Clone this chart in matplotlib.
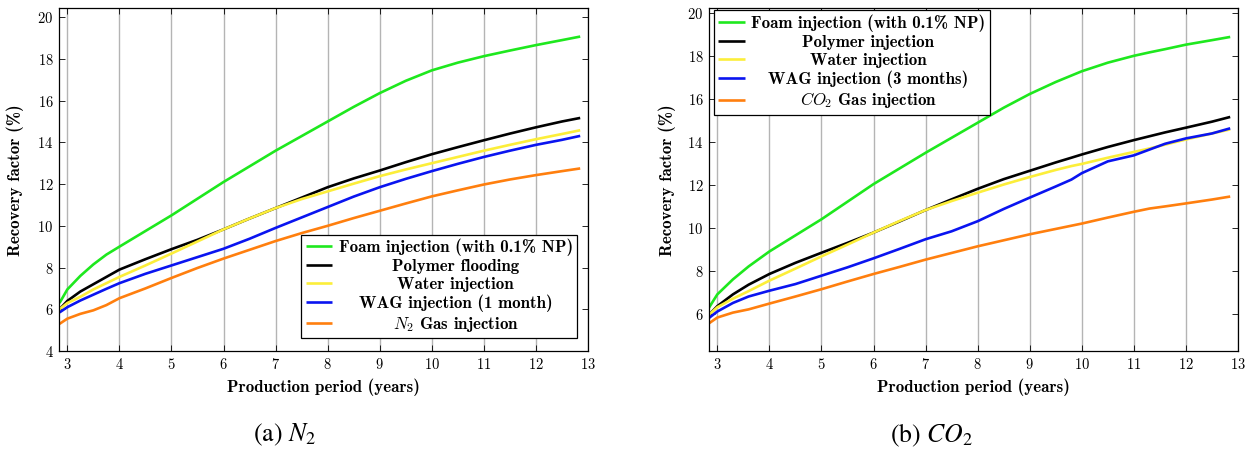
import matplotlib
matplotlib.use("Agg")
import matplotlib.pyplot as plt

plt.rcParams["font.family"] = "serif"
plt.rcParams["font.serif"] = ["cmr10"]
plt.rcParams["mathtext.fontset"] = "cm"
plt.rcParams["axes.formatter.use_mathtext"] = True

# N2 case (left panel)
years_n2 = [2.85, 3.0, 3.25, 3.5, 3.75, 4, 4.5, 5, 5.5, 6, 6.5, 7, 7.5, 8, 8.5, 9, 9.5, 10, 10.5, 11, 11.5, 12, 12.5, 12.85]
foam_n2 = [6.3, 6.95, 7.6, 8.15, 8.62, 9.0, 9.75, 10.5, 11.3, 12.1, 12.85, 13.6, 14.3, 15.0, 15.7, 16.36, 16.95, 17.45, 17.82, 18.13, 18.4, 18.66, 18.9, 19.07]
polymer_n2 = [6.0, 6.4, 6.85, 7.2, 7.55, 7.9, 8.4, 8.88, 9.33, 9.83, 10.35, 10.85, 11.35, 11.85, 12.27, 12.65, 13.05, 13.43, 13.77, 14.1, 14.42, 14.72, 15.0, 15.17]
water_n2 = [6.0, 6.3, 6.6, 6.95, 7.25, 7.55, 8.1, 8.67, 9.25, 9.83, 10.35, 10.85, 11.28, 11.65, 12.02, 12.38, 12.7, 13.0, 13.3, 13.6, 13.88, 14.15, 14.4, 14.58]
wag_n2 = [5.85, 6.1, 6.42, 6.7, 6.98, 7.25, 7.7, 8.1, 8.5, 8.9, 9.38, 9.9, 10.4, 10.9, 11.4, 11.85, 12.25, 12.62, 12.97, 13.3, 13.6, 13.88, 14.12, 14.31]
gas_n2 = [5.3, 5.55, 5.78, 5.95, 6.2, 6.53, 7.0, 7.5, 7.98, 8.43, 8.85, 9.27, 9.65, 10.0, 10.37, 10.72, 11.07, 11.41, 11.7, 11.98, 12.22, 12.43, 12.62, 12.75]

# CO2 case (right panel)
years_co2 = [2.84, 3.0, 3.3, 3.6, 4, 4.5, 5, 5.5, 6, 6.5, 7, 7.5, 8, 8.5, 9, 9.5, 9.8, 10, 10.5, 11, 11.3, 11.6, 12, 12.5, 12.85]
foam_co2 = [6.28, 6.9, 7.6, 8.2, 8.9, 9.65, 10.4, 11.22, 12.04, 12.77, 13.5, 14.2, 14.9, 15.6, 16.24, 16.8, 17.1, 17.3, 17.7, 18.02, 18.18, 18.33, 18.54, 18.75, 18.9]
polymer_co2 = [5.95, 6.35, 6.9, 7.35, 7.85, 8.37, 8.84, 9.3, 9.78, 10.3, 10.83, 11.33, 11.82, 12.27, 12.66, 13.05, 13.27, 13.42, 13.77, 14.09, 14.27, 14.45, 14.67, 14.95, 15.17]
water_co2 = [5.95, 6.3, 6.7, 7.05, 7.54, 8.1, 8.67, 9.22, 9.78, 10.32, 10.83, 11.25, 11.64, 12.02, 12.37, 12.7, 12.88, 12.98, 13.27, 13.54, 13.7, 13.88, 14.12, 14.4, 14.59]
wag_co2 = [5.8, 6.1, 6.5, 6.8, 7.07, 7.38, 7.77, 8.16, 8.58, 9.02, 9.47, 9.84, 10.31, 10.88, 11.41, 11.93, 12.25, 12.55, 13.1, 13.38, 13.65, 13.92, 14.17, 14.4, 14.64]
gas_co2 = [5.55, 5.82, 6.05, 6.2, 6.47, 6.8, 7.14, 7.5, 7.85, 8.18, 8.52, 8.83, 9.14, 9.42, 9.7, 9.95, 10.1, 10.2, 10.48, 10.75, 10.9, 11.0, 11.14, 11.32, 11.46]

colors = ["#1ee81e", "black", "#fcee3a", "#0a14f0", "#ff7f0e"]
labels_n2 = ["Foam injection (with 0.1% NP)", "Polymer flooding", "Water injection",
             "WAG injection (1 month)", r"$N_2$ Gas injection"]
labels_co2 = ["Foam injection (with 0.1% NP)", "Polymer injection", "Water injection",
              "WAG injection (3 months)", r"$CO_2$ Gas injection"]

fig = plt.figure(figsize=(12.53, 4.49), dpi=100)
ax1 = fig.add_axes([59 / 1253, 98 / 449, 529 / 1253, 342.6 / 449])
ax2 = fig.add_axes([709 / 1253, 98 / 449, 529 / 1253, 342.6 / 449])

bold = {"family": "cmb10", "size": 12.2}
legends = []
for ax, years, series, labels, ylim, loc, anchor in [
    (ax1, years_n2, [foam_n2, polymer_n2, water_n2, wag_n2, gas_n2], labels_n2, (4, 20.42),
     "lower right", (1 - 11 / 529, 13 / 342.6)),
    (ax2, years_co2, [foam_co2, polymer_co2, water_co2, wag_co2, gas_co2], labels_co2, (4.26, 20.23),
     "upper left", (5 / 529, 1 - 2 / 342.6)),
]:
    for ys, c, lab in zip(series, colors, labels):
        ax.plot(years, ys, color=c, lw=1.9, label=lab, solid_capstyle="butt")
    ax.set_xlim(2.84, 13)
    ax.set_ylim(*ylim)
    ax.set_xticks(range(3, 14))
    ax.set_yticks(range(4 if ylim[0] <= 4 else 6, 21, 2))
    ax.grid(axis="x", color="#b4b4b4", lw=1.0)
    ax.set_axisbelow(True)
    ax.tick_params(direction="in", top=True, right=True, labelsize=10.5, length=4, width=0.6, pad=4)
    for s in ax.spines.values():
        s.set_linewidth(0.9)
    ax.set_xlabel("Production period (years)", fontdict=bold, labelpad=5)
    ax.set_ylabel("Recovery factor (%)", fontdict=bold)
    leg = ax.legend(loc=loc, bbox_to_anchor=anchor, prop=bold, fancybox=False,
                    edgecolor="black", framealpha=1, handlelength=1.55, handletextpad=0.4,
                    labelspacing=0.16, borderpad=0.25, borderaxespad=0)
    leg.get_frame().set_linewidth(0.9)
    legends.append(leg)

ax1.yaxis.set_label_coords(-35 / 529, 0.5)
ax2.yaxis.set_label_coords(-33 / 529, 0.5)

# centre legend entries like pgfplots
fig.canvas.draw()
r = fig.canvas.get_renderer()
for leg in legends:
    texts = leg.get_texts()
    widths = [t.get_window_extent(r).width for t in texts]
    wmax = max(widths)
    for t, w in zip(texts, widths):
        t.set_x((wmax - w) / 2)

fig.text(284 / 1253, 1 - 435 / 449, r"(a) $N_2$", ha="center", va="center",
         fontsize=18.5, fontfamily="STIXGeneral", math_fontfamily="stix")
fig.text(931 / 1253, 1 - 435 / 449, r"(b) $CO_2$", ha="center", va="center",
         fontsize=18.5, fontfamily="STIXGeneral", math_fontfamily="stix")

fig.savefig("out.png", dpi=100)
